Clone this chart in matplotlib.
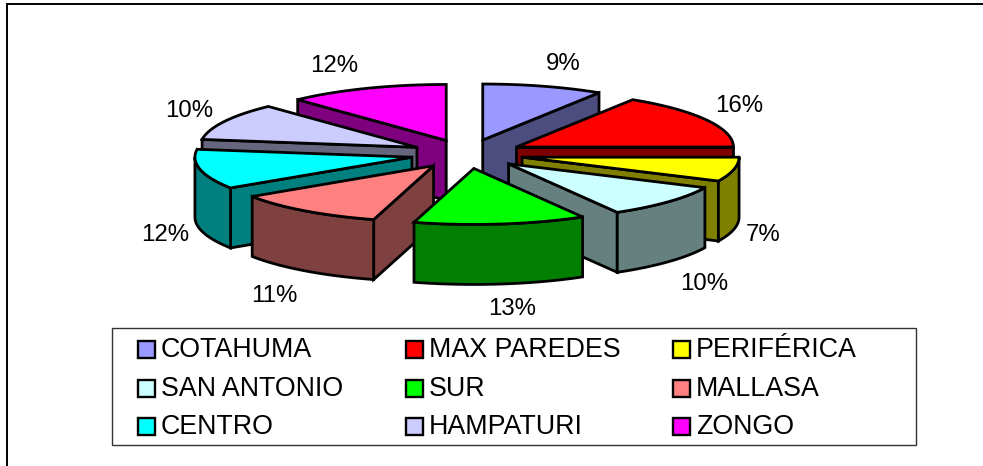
import numpy as np
import matplotlib
matplotlib.use("Agg")
import matplotlib.pyplot as plt
from matplotlib.patches import Polygon, Rectangle

plt.rcParams['font.family'] = ['Liberation Sans', 'DejaVu Sans']

categories = ["COTAHUMA", "MAX PAREDES", "PERIFÉRICA", "SAN ANTONIO", "SUR",
              "MALLASA", "CENTRO", "HAMPATURI", "ZONGO"]
values = [9.0, 16.0, 7.0, 9.65, 12.8, 11.3, 11.5, 10.75, 12.0]
labels = ["9%", "16%", "7%", "10%", "13%", "11%", "12%", "10%", "12%"]
top_colors = ["#9999FF", "#FF0000", "#FFFF00", "#CCFFFF", "#00FF00",
              "#FF8080", "#00FFFF", "#CCCCFF", "#FF00FF"]
side_colors = ["#4C4C7F", "#7F0000", "#7F7F00", "#667F7F", "#007F00",
               "#7F4040", "#007F7F", "#66667F", "#7F007F"]
label_xy = [(563, 64), (739, 106), (763, 235), (704, 284), (512, 309),
            (274, 296), (165, 235), (189, 111), (334, 66)]

W, H = 983, 466
CX, CY, RX, RY, DEPTH, EXPLODE = 467, 154, 217, 56, 60, 0.26

fig = plt.figure(figsize=(W / 100, H / 100), dpi=100)
ax = fig.add_axes([0, 0, 1, 1])
ax.set_xlim(0, W)
ax.set_ylim(H, 0)
ax.axis("off")

LW = 2.0
total = sum(values)
edges = np.concatenate([[0], np.cumsum(values)]) / total * 2 * np.pi


def poly(points, color, z):
    ax.add_patch(Polygon(points, closed=True, facecolor=color, edgecolor="black",
                         linewidth=LW, joinstyle="miter", zorder=z))


slices = []
for i in range(len(values)):
    a0, a1 = edges[i], edges[i + 1]
    mid = (a0 + a1) / 2
    ox = CX + RX * EXPLODE * np.sin(mid)
    oy = CY - RY * EXPLODE * np.cos(mid)
    slices.append((oy, i, a0, a1, ox))

for order, (oy, i, a0, a1, ox) in enumerate(sorted(slices)):
    base = 10 + order * 10
    rim = lambda a: np.column_stack([ox + RX * np.sin(a), oy - RY * np.cos(a)])
    apex = np.array([[ox, oy]])
    down = np.array([0, DEPTH])
    # radial cut walls that face the viewer
    if np.sin(a0) < -1e-6:
        e = rim(np.array([a0]))
        poly(np.vstack([apex, e, e + down, apex + down]), side_colors[i], base)
    if np.sin(a1) > 1e-6:
        e = rim(np.array([a1]))
        poly(np.vstack([apex, e, e + down, apex + down]), side_colors[i], base)
    # outer curved wall, front half only
    lo, hi = max(a0, np.pi / 2), min(a1, 3 * np.pi / 2)
    if hi > lo:
        arc = rim(np.linspace(lo, hi, 60))
        poly(np.vstack([arc, arc[::-1] + down]), side_colors[i], base + 1)
    # top face
    arc = rim(np.linspace(a0, a1, 80))
    poly(np.vstack([apex, arc]), top_colors[i], base + 2)

for (x, y), t in zip(label_xy, labels):
    ax.text(x, y, t, ha="center", va="center", fontsize=17.3, color="black", zorder=200)

# legend
ax.add_patch(Rectangle((112, 328), 804, 117, facecolor="white", edgecolor="#333333",
                       linewidth=1.0, zorder=150))
col_x = [138, 406, 673]
row_y = [349, 388, 426]
for i, name in enumerate(categories):
    r, c = divmod(i, 3)
    x, y = col_x[c], row_y[r]
    ax.add_patch(Rectangle((x, y - 8.5), 17, 17, facecolor=top_colors[i], edgecolor="black",
                           linewidth=1.7, zorder=160))
    ax.text(x + 23, y + 1, name, ha="left", va="center", fontsize=19.3, color="black", zorder=160)

# outer frame
ax.plot([6.5, 6.5, W], [H, 3.5, 3.5], color="black", lw=1.4, zorder=1, solid_joinstyle="miter")

fig.savefig("out.png", dpi=100)
